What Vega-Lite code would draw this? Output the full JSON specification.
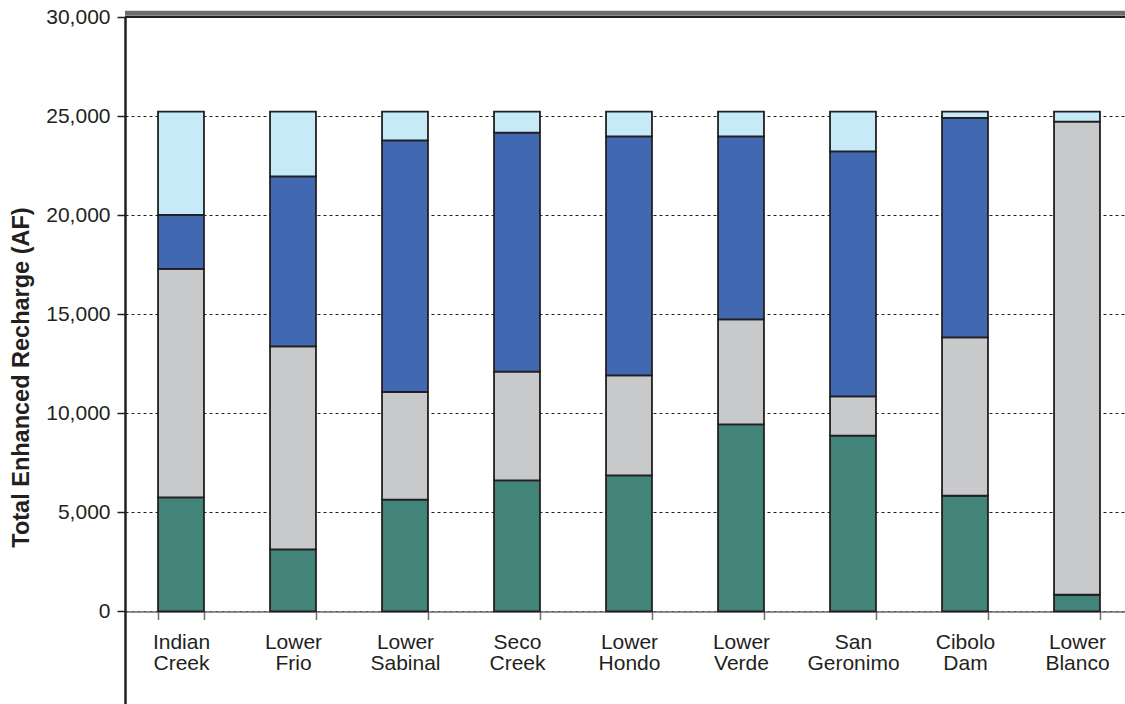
{
  "$schema": "https://vega.github.io/schema/vega-lite/v6.json",
  "width": 1000,
  "height": 687,
  "autosize": {"type": "none"},
  "padding": {"left": 125, "top": 17, "right": 0, "bottom": 0},
  "background": "white",
  "config": {"view": {"stroke": null}, "font": "Liberation Sans"},
  "data": {
    "values": [
      {"site": "Indian Creek", "component": "Component 1", "order": 1, "value": 5755},
      {"site": "Indian Creek", "component": "Component 2", "order": 2, "value": 11529},
      {"site": "Indian Creek", "component": "Component 3", "order": 3, "value": 2726},
      {"site": "Indian Creek", "component": "Component 4", "order": 4, "value": 5215},
      {"site": "Lower Frio", "component": "Component 1", "order": 1, "value": 3130},
      {"site": "Lower Frio", "component": "Component 2", "order": 2, "value": 10247},
      {"site": "Lower Frio", "component": "Component 3", "order": 3, "value": 8581},
      {"site": "Lower Frio", "component": "Component 4", "order": 4, "value": 3267},
      {"site": "Lower Sabinal", "component": "Component 1", "order": 1, "value": 5639},
      {"site": "Lower Sabinal", "component": "Component 2", "order": 2, "value": 5436},
      {"site": "Lower Sabinal", "component": "Component 3", "order": 3, "value": 12701},
      {"site": "Lower Sabinal", "component": "Component 4", "order": 4, "value": 1449},
      {"site": "Seco Creek", "component": "Component 1", "order": 1, "value": 6613},
      {"site": "Seco Creek", "component": "Component 2", "order": 2, "value": 5487},
      {"site": "Seco Creek", "component": "Component 3", "order": 3, "value": 12065},
      {"site": "Seco Creek", "component": "Component 4", "order": 4, "value": 1060},
      {"site": "Lower Hondo", "component": "Component 1", "order": 1, "value": 6865},
      {"site": "Lower Hondo", "component": "Component 2", "order": 2, "value": 5048},
      {"site": "Lower Hondo", "component": "Component 3", "order": 3, "value": 12065},
      {"site": "Lower Hondo", "component": "Component 4", "order": 4, "value": 1247},
      {"site": "Lower Verde", "component": "Component 1", "order": 1, "value": 9440},
      {"site": "Lower Verde", "component": "Component 2", "order": 2, "value": 5300},
      {"site": "Lower Verde", "component": "Component 3", "order": 3, "value": 9238},
      {"site": "Lower Verde", "component": "Component 4", "order": 4, "value": 1247},
      {"site": "San Geronimo", "component": "Component 1", "order": 1, "value": 8869},
      {"site": "San Geronimo", "component": "Component 2", "order": 2, "value": 1984},
      {"site": "San Geronimo", "component": "Component 3", "order": 3, "value": 12368},
      {"site": "San Geronimo", "component": "Component 4", "order": 4, "value": 2004},
      {"site": "Cibolo Dam", "component": "Component 1", "order": 1, "value": 5840},
      {"site": "Cibolo Dam", "component": "Component 2", "order": 2, "value": 7991},
      {"site": "Cibolo Dam", "component": "Component 3", "order": 3, "value": 11076},
      {"site": "Cibolo Dam", "component": "Component 4", "order": 4, "value": 318},
      {"site": "Lower Blanco", "component": "Component 1", "order": 1, "value": 843},
      {"site": "Lower Blanco", "component": "Component 2", "order": 2, "value": 23877},
      {"site": "Lower Blanco", "component": "Component 4", "order": 4, "value": 505}
    ]
  },
  "layer": [
    {
      "mark": {"type": "bar", "stroke": "#231F20", "strokeWidth": 1.8},
      "encoding": {
        "x": {
          "field": "site",
          "type": "nominal",
          "sort": ["Indian Creek", "Lower Frio", "Lower Sabinal", "Seco Creek", "Lower Hondo", "Lower Verde", "San Geronimo", "Cibolo Dam", "Lower Blanco"],
          "scale": {"range": [0, 1008], "paddingInner": 0.59, "paddingOuter": 0.295},
          "axis": {
            "orient": "bottom",
            "offset": -92.5,
            "title": null,
            "labelAngle": 0,
            "labelExpr": "split(datum.label, ' ')",
            "labelFontSize": 21,
            "labelLineHeight": 21,
            "labelColor": "#231F20",
            "labelPadding": 12,
            "labelBaseline": "top",
            "tickBand": "extent",
            "tickSize": 8,
            "tickWidth": 1.5,
            "tickColor": "#6D6E70",
            "domainColor": "#6D6E70",
            "domainWidth": 1.5
          }
        },
        "y": {
          "field": "value",
          "type": "quantitative",
          "stack": "zero",
          "scale": {"domain": [-4670, 30000], "nice": false, "zero": false},
          "axis": {
            "values": [0, 5000, 10000, 15000, 20000, 25000, 30000],
            "format": ",.0f",
            "title": "Total Enhanced Recharge (AF)",
            "titleFontSize": 23.5,
            "titleFontWeight": "bold",
            "titleColor": "#231F20",
            "titleX": -97,
            "titleY": 360,
            "titleAngle": 270,
            "titleAlign": "center",
            "titleBaseline": "alphabetic",
            "grid": true,
            "gridDash": [3, 3],
            "gridColor": "#231F20",
            "gridWidth": 1,
            "domainColor": "#231F20",
            "domainWidth": 2.5,
            "tickColor": "#231F20",
            "tickSize": 8,
            "tickWidth": 1.5,
            "labelFontSize": 21,
            "labelPadding": 7,
            "labelColor": "#231F20"
          }
        },
        "color": {
          "field": "component",
          "type": "nominal",
          "scale": {
            "domain": ["Component 1", "Component 2", "Component 3", "Component 4"],
            "range": ["#42847A", "#C8C9CB", "#4169B1", "#C7EAF8"]
          },
          "legend": null
        },
        "order": {"field": "order", "type": "quantitative"}
      }
    },
    {
      "data": {"values": [{}]},
      "mark": {"type": "rule", "stroke": "#6D6E70", "strokeWidth": 5},
      "encoding": {"y": {"datum": 30192}}
    },
    {
      "data": {"values": [{}]},
      "mark": {"type": "rule", "stroke": "#231F20", "strokeWidth": 2},
      "encoding": {"y": {"datum": 30000}}
    }
  ]
}
